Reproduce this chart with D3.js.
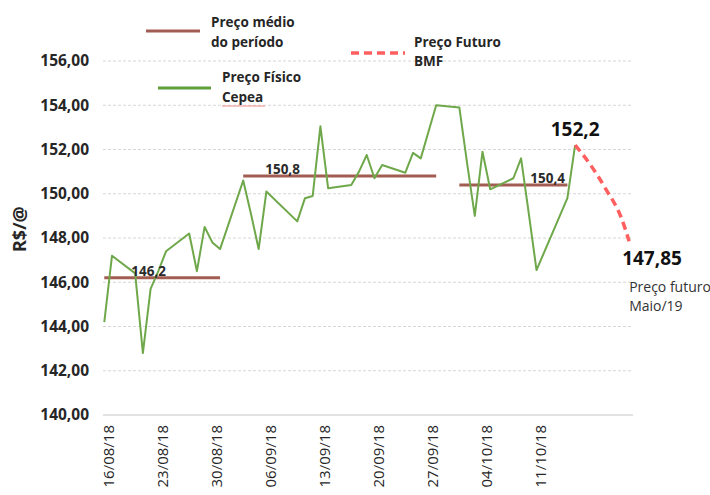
<!DOCTYPE html>
<html>
<head>
<meta charset="utf-8">
<script src="https://cdn.jsdelivr.net/npm/d3@7"></script>
<style>
  body { margin: 0; background: #fff; }
  text { font-family: "Open Sans", Lato, sans-serif; }
</style>
</head>
<body>
<div id="chart"></div>
<script>
// Preço físico Cepea (dias úteis)
const fisicoDates = ["16/08/18","17/08/18","20/08/18","21/08/18","22/08/18","23/08/18","24/08/18",
  "27/08/18","28/08/18","29/08/18","30/08/18","31/08/18",
  "03/09/18","04/09/18","05/09/18","06/09/18","10/09/18","11/09/18","12/09/18","13/09/18","14/09/18",
  "17/09/18","18/09/18","19/09/18","20/09/18","21/09/18","24/09/18","25/09/18","26/09/18","27/09/18","28/09/18",
  "01/10/18","02/10/18","03/10/18","04/10/18","05/10/18","08/10/18","09/10/18","10/10/18","11/10/18",
  "15/10/18","16/10/18"];
const fisicoValues = [144.2, 147.2, 146.4, 142.8, 145.7, 146.5, 147.4,
  148.2, 146.5, 148.5, 147.8, 147.5,
  150.6, 149.1, 147.5, 150.1, 148.75, 149.8, 149.9, 153.05, 150.25,
  150.4, 151.0, 151.75, 150.7, 151.3, 150.95, 151.85, 151.6, 152.8, 154.0,
  153.9, 151.4, 149.0, 151.9, 150.2, 150.7, 151.6, 149.1, 146.55,
  149.8, 152.2];

// Preço médio por período
const mediaStart = ["16/08/18", "03/09/18", "01/10/18"];
const mediaEnd = ["31/08/18", "28/09/18", "15/10/18"];
const mediaValues = [146.2, 150.8, 150.4];
const mediaLabels = ["146,2", "150,8", "150,4"];

// Preço futuro BMF
const futuroDates = ["16/10/18", "18/10/18", "20/10/18", "22/10/18", "23/10/18"];
const futuroValues = [152.2, 151.3, 150.2, 148.9, 147.85];

const xTickDates = ["16/08/18","23/08/18","30/08/18","06/09/18","13/09/18","20/09/18","27/09/18","04/10/18","11/10/18"];
const yTicks = [140, 142, 144, 146, 148, 150, 152, 154, 156];

const parse = d3.timeParse("%d/%m/%y");
const br = d3.formatLocale({ decimal: ",", thousands: ".", grouping: [3], currency: ["R$", ""] });
const fmt = br.format(".2f");

const W = 710, H = 495;
const margin = { top: 61, right: 77, bottom: 80, left: 103 };
const width = W - margin.left - margin.right;
const height = H - margin.top - margin.bottom;

const svg = d3.select("#chart").append("svg")
  .attr("width", W).attr("height", H);

const g = svg.append("g").attr("transform", `translate(${margin.left},${margin.top})`);

const x0 = parse("16/08/18"), x1 = parse("23/10/18");
const x = d3.scaleTime()
  .domain([d3.timeHour.offset(x0, -4), d3.timeHour.offset(x1, 12)])
  .range([0, width]);
const y = d3.scaleLinear().domain([140, 156]).range([height, 0]);

// grid
g.selectAll(".grid").data(yTicks.filter(d => d !== 140)).enter().append("line")
  .attr("x1", 0).attr("x2", width)
  .attr("y1", d => y(d)).attr("y2", d => y(d))
  .attr("stroke", "#d6d6d6").attr("stroke-width", 1).attr("stroke-dasharray", "3,2");
g.append("line")
  .attr("x1", 0).attr("x2", width).attr("y1", y(140)).attr("y2", y(140))
  .attr("stroke", "#d9d9d9").attr("stroke-width", 1.5);

// y axis labels
const yAxis = g.append("g")
  .call(d3.axisLeft(y).tickValues(yTicks).tickSize(0).tickPadding(14).tickFormat(d => fmt(d)));
yAxis.select(".domain").remove();
yAxis.selectAll("text").attr("font-size", 15.5).attr("font-weight", "bold").attr("fill", "#262626")
  .attr("font-family", "'Open Sans', sans-serif");

// x axis labels
g.selectAll(".xlab").data(xTickDates).enter().append("text")
  .attr("transform", d => `translate(${x(parse(d)) + 4},${height + 10}) rotate(-90)`)
  .attr("text-anchor", "end").attr("dy", "0.35em")
  .attr("font-size", 15).attr("fill", "#262626")
  .text(d => d);

svg.append("text")
  .attr("transform", `translate(26,${margin.top + y(148.4)}) rotate(-90)`)
  .attr("text-anchor", "middle")
  .attr("font-size", 18).attr("font-weight", "bold").attr("fill", "#262626")
  .text("R$/@");

// mean lines
const media = mediaValues.map((v, i) => ({ s: parse(mediaStart[i]), e: parse(mediaEnd[i]), v, label: mediaLabels[i] }));
g.selectAll(".media").data(media).enter().append("line")
  .attr("x1", d => x(d.s)).attr("x2", d => x(d.e))
  .attr("y1", d => y(d.v)).attr("y2", d => y(d.v))
  .attr("stroke", "#a35c52").attr("stroke-width", 3);

// physical price
const fisico = fisicoDates.map((d, i) => ({ t: parse(d), v: fisicoValues[i] }));
g.append("path").datum(fisico)
  .attr("fill", "none").attr("stroke", "#6fa84a").attr("stroke-width", 2)
  .attr("stroke-linejoin", "round")
  .attr("d", d3.line().x(d => x(d.t)).y(d => y(d.v)));

g.selectAll(".mlab").data(media).enter().append("text")
  .attr("x", (d, i) => x(d.s) + [27, 22, 71][i])
  .attr("y", d => y(d.v) - 2)
  .attr("font-size", 13.5).attr("font-weight", "bold").attr("fill", "#2a2a2a")
  .text(d => d.label);

// futures
const futuro = futuroDates.map((d, i) => ({ t: parse(d), v: futuroValues[i] }));
g.append("path").datum(futuro)
  .attr("fill", "none").attr("stroke", "#ff5f5f").attr("stroke-width", 3.5)
  .attr("stroke-dasharray", "8,5")
  .attr("d", d3.line().curve(d3.curveMonotoneX).x(d => x(d.t)).y(d => y(d.v)));

const first = futuro[0], last = futuro[futuro.length - 1];
g.append("text")
  .attr("x", x(first.t)).attr("y", y(first.v) - 9)
  .attr("text-anchor", "middle")
  .attr("font-size", 19).attr("font-weight", "bold").attr("fill", "#111")
  .text(br.format(".1f")(first.v));
g.append("text")
  .attr("x", x(last.t) - 7).attr("y", y(last.v) + 24)
  .attr("font-size", 19).attr("font-weight", "bold").attr("fill", "#111")
  .text(br.format(".2f")(last.v));
const fut = g.append("text")
  .attr("x", x(last.t)).attr("y", y(last.v) + 51)
  .attr("font-size", 14).attr("fill", "#333");
fut.append("tspan").text("Preço futuro");
fut.append("tspan").attr("x", x(last.t)).attr("dy", 19).text("Maio/19");

// legend
const legend = svg.append("g");
legend.append("line").attr("x1", 146).attr("x2", 200).attr("y1", 31).attr("y2", 31)
  .attr("stroke", "#a35c52").attr("stroke-width", 3);
const l1 = legend.append("text").attr("x", 211).attr("y", 27)
  .attr("font-size", 13.5).attr("font-weight", "bold").attr("fill", "#262626");
l1.append("tspan").text("Preço médio");
l1.append("tspan").attr("x", 211).attr("dy", 20).text("do período");

legend.append("line").attr("x1", 158).attr("x2", 211).attr("y1", 88).attr("y2", 88)
  .attr("stroke", "#5f9e38").attr("stroke-width", 3);
const l2 = legend.append("text").attr("x", 222).attr("y", 82)
  .attr("font-size", 13.5).attr("font-weight", "bold").attr("fill", "#262626");
l2.append("tspan").text("Preço Físico");
l2.append("tspan").attr("x", 222).attr("dy", 20).text("Cepea");
legend.append("line").attr("x1", 222).attr("x2", 265).attr("y1", 106).attr("y2", 106)
  .attr("stroke", "#f28b8b").attr("stroke-width", 1);

legend.append("line").attr("x1", 351).attr("x2", 405).attr("y1", 53).attr("y2", 53)
  .attr("stroke", "#ff5f5f").attr("stroke-width", 3.5).attr("stroke-dasharray", "8,5");
const l3 = legend.append("text").attr("x", 414).attr("y", 47)
  .attr("font-size", 13.5).attr("font-weight", "bold").attr("fill", "#262626");
l3.append("tspan").text("Preço Futuro");
l3.append("tspan").attr("x", 414).attr("dy", 19).text("BMF");
</script>
</body>
</html>
